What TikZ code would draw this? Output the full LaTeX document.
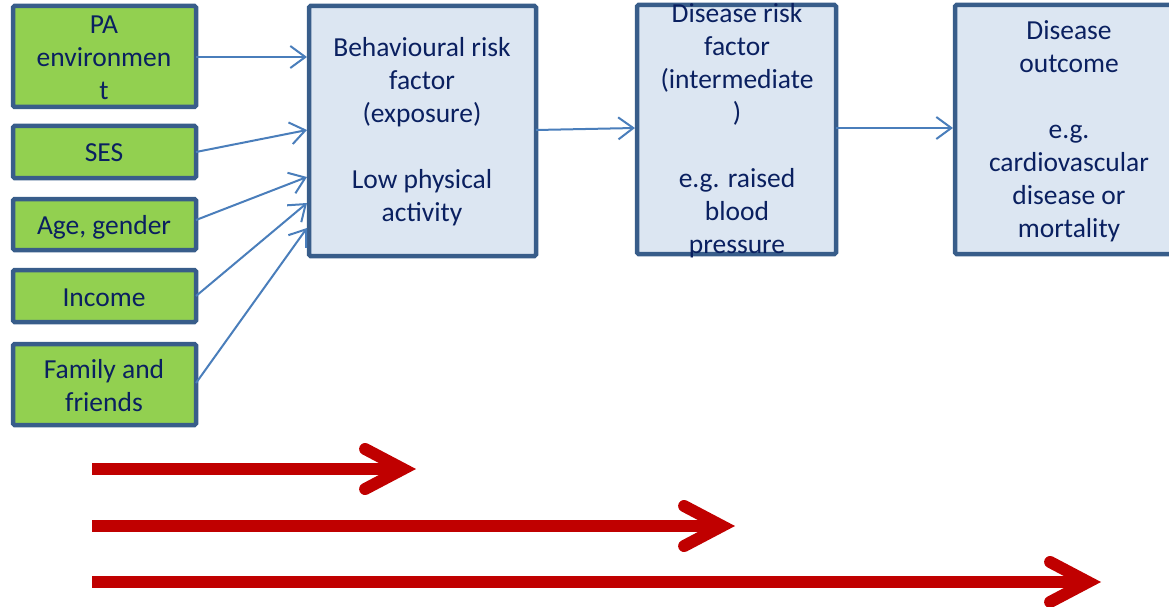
\documentclass[tikz,border=0pt]{standalone}
\usepackage{fontspec}
\setmainfont{Carlito}
\usetikzlibrary{arrows.meta}
\definecolor{txt}{RGB}{10,32,96}
\definecolor{bord}{RGB}{56,93,138}
\definecolor{grn}{HTML}{92D050}
\definecolor{lblue}{HTML}{DCE6F2}
\definecolor{arr}{HTML}{4A7EBB}
\definecolor{red}{HTML}{C00000}
\tikzset{
  gbox/.style={draw=bord, line width=4.5pt, fill=grn, rounded corners=1.5pt},
  bbox/.style={draw=bord, line width=4.5pt, fill=lblue, rounded corners=1.5pt},
  lbl/.style={text=txt, font=\fontsize{27.5}{33}\selectfont, align=center, inner sep=0pt},
  conn/.style={draw=arr, line width=2pt, -{Straight Barb[length=15pt,width=22pt,line width=2pt]}},
  bigarr/.style={draw=red, line width=12pt, -{Straight Barb[length=38pt,width=40pt,line width=12pt,line cap=round,line join=miter]}},
}
\begin{document}
\begin{tikzpicture}[x=1pt,y=-1pt]
\useasboundingbox (0,0) rectangle (1169,607);
% boxes
\draw[gbox] (13,6) rectangle (196,107);
\draw[gbox] (13,126) rectangle (196,178);
\draw[gbox] (13,199) rectangle (196,250);
\draw[gbox] (13,270) rectangle (196,322);
\draw[gbox] (13,344) rectangle (196,425);
\draw[bbox] (309,6) rectangle (536,256);
\draw[bbox] (637,5) rectangle (836,254);
\draw[bbox] (955,5) rectangle (1185,254);
% anchor coordinates
\coordinate (paR) at (196,57);
\coordinate (sesR) at (196,152);
\coordinate (ageR) at (196,220);
\coordinate (incR) at (196,296);
\coordinate (famR) at (196,383);
\coordinate (beh1) at (307,57);
\coordinate (beh2) at (307,130);
\coordinate (beh3) at (307,177);
\coordinate (beh4) at (307,203);
\coordinate (beh5) at (307,228);
\coordinate (behR) at (536,130);
\coordinate (drL) at (635,128);
\coordinate (drR) at (836,128);
\coordinate (doL) at (953,128);
% texts
\node[lbl] (pa) at (104,58) {PA\\environmen\\t};
\node[lbl] (ses) at (104,153) {SES};
\node[lbl] (age) at (104,227) {Age, gender};
\node[lbl] (inc) at (104,298) {Income};
\node[lbl] (fam) at (104,386) {Family and\\friends};
\node[lbl] (beh) at (422,132) {Behavioural risk\\factor\\(exposure)\\[33pt]Low physical\\activity};
\node[lbl] (dr) at (737,131) {Disease risk\\factor\\(intermediate\\)\\[33pt]e.g. raised\\blood\\pressure};
\node[lbl] (do) at (1069,131) {Disease\\outcome\\[33pt]e.g.\\cardiovascular\\disease or\\mortality};
% connectors
\draw[conn] (paR) -- (beh1);
\draw[conn] (sesR) -- (beh2);
\draw[conn] (ageR) -- (beh3);
\draw[conn] (incR) -- (beh4);
\draw[conn] (famR) -- (beh5);
\draw[conn] (behR) -- (drL);
\draw[conn] (drR) -- (doL);
% red arrows
\coordinate (r1a) at (92,469); \coordinate (r1b) at (416,469);
\coordinate (r2a) at (92,526); \coordinate (r2b) at (735,526);
\coordinate (r3a) at (92,582); \coordinate (r3b) at (1101,582);
\draw[bigarr] (r1a) -- (r1b);
\draw[bigarr] (r2a) -- (r2b);
\draw[bigarr] (r3a) -- (r3b);
\end{tikzpicture}
\end{document}
